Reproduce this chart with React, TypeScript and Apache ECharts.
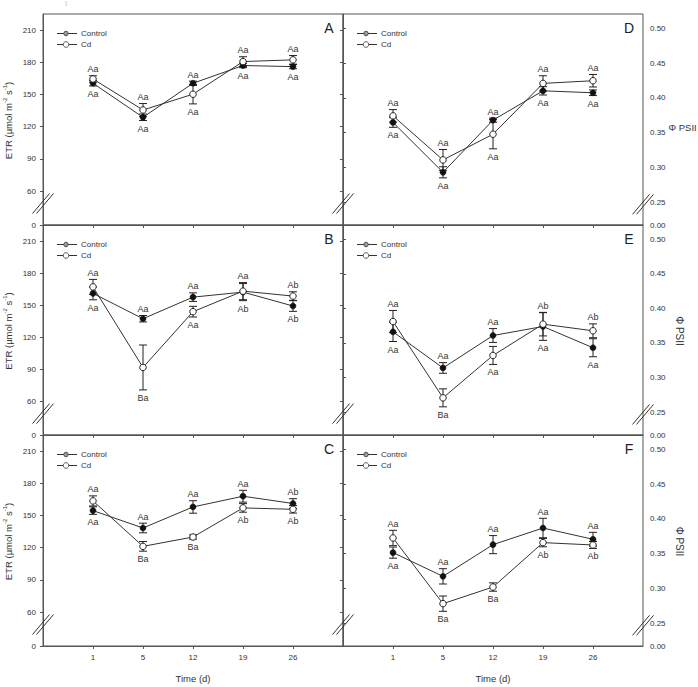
import React, { useEffect, useRef } from 'react';
import * as echarts from 'echarts';

const FONT = '"Liberation Sans", Arial, Helvetica, sans-serif';

// ---- categories & ticks ----
const days = ['1', '5', '12', '19', '26'];
const etrTicks = [60, 90, 120, 150, 180, 210];
const phiTicks = [0.25, 0.3, 0.35, 0.4, 0.45, 0.5];

// ---- Panel A (ETR) ----
const aControl = [160.5, 128.8, 160.5, 177.0, 176.0];
const aControlErr = [2.5, 3.0, 2.0, 2.0, 2.0];
const aCd = [164.5, 135.6, 150.3, 180.7, 182.3];
const aCdErr = [3.0, 6.0, 9.0, 4.5, 4.0];
const aTop = ['Aa', 'Aa', 'Aa', 'Aa', 'Aa'];
const aBottom = ['Aa', 'Aa', 'Aa', 'Aa', 'Aa'];

// ---- Panel B (ETR) ----
const bControl = [161.0, 137.3, 157.5, 162.2, 149.2];
const bControlErr = [6.0, 3.0, 4.0, 8.0, 5.0];
const bCd = [167.1, 91.7, 143.9, 163.1, 158.5];
const bCdErr = [7.0, 21.0, 5.0, 8.0, 4.0];
const bTop = ['Aa', 'Aa', 'Aa', 'Aa', 'Ab'];
const bBottom = ['Aa', 'Ba', 'Aa', 'Ab', 'Ab'];

// ---- Panel C (ETR) ----
const cControl = [154.6, 138.4, 158.0, 168.0, 161.2];
const cControlErr = [3.5, 4.5, 5.8, 5.5, 4.5];
const cCd = [163.6, 121.3, 130.0, 157.1, 155.8];
const cCdErr = [4.7, 4.5, 2.0, 4.0, 3.5];
const cTop = ['Aa', 'Aa', 'Aa', 'Aa', 'Ab'];
const cBottom = ['Aa', 'Ba', 'Ba', 'Ab', 'Ab'];

// ---- Panel D (PhiPSII) ----
const dControl = [0.3645, 0.2928, 0.3678, 0.41, 0.4072];
const dControlErr = [0.007, 0.008, 0.003, 0.006, 0.004];
const dCd = [0.374, 0.3106, 0.3476, 0.4207, 0.4245];
const dCdErr = [0.009, 0.015, 0.021, 0.011, 0.009];
const dTop = ['Aa', 'Aa', 'Aa', 'Aa', 'Aa'];
const dBottom = ['Aa', 'Aa', 'Aa', 'Aa', 'Aa'];

// ---- Panel E (PhiPSII) ----
const eControl = [0.3661, 0.3139, 0.3608, 0.3738, 0.3431];
const eControlErr = [0.014, 0.0077, 0.01, 0.02, 0.013];
const eCd = [0.381, 0.2707, 0.332, 0.3772, 0.3676];
const eCdErr = [0.016, 0.013, 0.013, 0.017, 0.01];
const eTop = ['Aa', 'Aa', 'Aa', 'Ab', 'Ab'];
const eBottom = ['Aa', 'Ba', 'Aa', 'Aa', 'Aa'];

// ---- Panel F (PhiPSII) ----
const fControl = [0.3513, 0.3172, 0.3628, 0.3867, 0.3705];
const fControlErr = [0.008, 0.011, 0.013, 0.014, 0.01];
const fCd = [0.3724, 0.2779, 0.3018, 0.3657, 0.3623];
const fCdErr = [0.011, 0.011, 0.006, 0.006, 0.005];
const fTop = ['Aa', 'Aa', 'Aa', 'Aa', 'Aa'];
const fBottom = ['Aa', 'Ba', 'Ba', 'Ab', 'Ab'];

// ---- axis ranges (broken axes) ----
const ETR_MIN = 28.5;
const ETR_MAX = 225;
const ETR_BREAK = 48.5;
const PHI_MIN = 0.217;
const PHI_MAX = 0.5205;
const PHI_BREAK = 0.2467;

// ---- layout ----
const COL_LEFT = [43, 343];
const ROW_TOP = [14, 225, 435];
const ROW_H = [211, 210, 211];
const GRID_W = 300;
const AXIS_COLOR = '#555';
const TEXT_COLOR = '#333';

type Panel = {
  letter: string;
  col: number;
  row: number;
  control: number[];
  controlErr: number[];
  cd: number[];
  cdErr: number[];
  top: string[];
  bottom: string[];
};

const panels: Panel[] = [
  { letter: 'A', col: 0, row: 0, control: aControl, controlErr: aControlErr, cd: aCd, cdErr: aCdErr, top: aTop, bottom: aBottom },
  { letter: 'B', col: 0, row: 1, control: bControl, controlErr: bControlErr, cd: bCd, cdErr: bCdErr, top: bTop, bottom: bBottom },
  { letter: 'C', col: 0, row: 2, control: cControl, controlErr: cControlErr, cd: cCd, cdErr: cCdErr, top: cTop, bottom: cBottom },
  { letter: 'D', col: 1, row: 0, control: dControl, controlErr: dControlErr, cd: dCd, cdErr: dCdErr, top: dTop, bottom: dBottom },
  { letter: 'E', col: 1, row: 1, control: eControl, controlErr: eControlErr, cd: eCd, cdErr: eCdErr, top: eTop, bottom: eBottom },
  { letter: 'F', col: 1, row: 2, control: fControl, controlErr: fControlErr, cd: fCd, cdErr: fCdErr, top: fTop, bottom: fBottom },
];

function txt(x: number, y: number, text: string, size: number, align = 'left', valign = 'middle', extra: any = {}) {
  return {
    type: 'text',
    x,
    y,
    z: 100,
    silent: true,
    ...extra,
    style: {
      text,
      fontSize: size,
      fontFamily: FONT,
      fill: extra.fill || TEXT_COLOR,
      align,
      verticalAlign: valign,
      textAlign: align,
      textVerticalAlign: valign,
    },
  };
}

function breakMark(cx: number, cy: number) {
  return [-2, 2].map((dx) => ({
    type: 'line',
    z: 100,
    silent: true,
    shape: { x1: cx + dx - 8.5, y1: cy + 10, x2: cx + dx + 8.5, y2: cy - 10 },
    style: { stroke: '#333', lineWidth: 1 },
  }));
}

function buildOption() {
  const grid: any[] = [];
  const xAxis: any[] = [];
  const yAxis: any[] = [];
  const series: any[] = [];
  const graphic: any[] = [];

  panels.forEach((p, i) => {
    const left = COL_LEFT[p.col];
    const top = ROW_TOP[p.row];
    const height = ROW_H[p.row];
    const isEtr = p.col === 0;
    const min = isEtr ? ETR_MIN : PHI_MIN;
    const max = isEtr ? ETR_MAX : PHI_MAX;
    const ticks = isEtr ? etrTicks : phiTicks;
    const yPix = (v: number) => top + ((max - v) / (max - min)) * height;

    grid.push({ left, top, width: GRID_W, height, show: true, borderColor: AXIS_COLOR, borderWidth: 1 });

    xAxis.push({
      type: 'value',
      gridIndex: i,
      min: 0,
      max: 6,
      axisLine: { show: true, lineStyle: { color: AXIS_COLOR, width: 1 } },
      axisTick: { show: true, customValues: [1, 2, 3, 4, 5], length: 3, lineStyle: { color: AXIS_COLOR } },
      axisLabel: {
        show: p.row === 2,
        customValues: [1, 2, 3, 4, 5],
        formatter: (v: number) => days[Math.round(v) - 1] ?? '',
        fontSize: 8,
        fontFamily: FONT,
        color: TEXT_COLOR,
        margin: 7,
      },
      splitLine: { show: false },
    });

    const yi = yAxis.length;
    yAxis.push({
      type: 'value',
      gridIndex: i,
      position: isEtr ? 'left' : 'right',
      min,
      max,
      axisLine: { show: true, lineStyle: { color: AXIS_COLOR, width: 1 } },
      axisTick: { show: true, customValues: [min, ...ticks], length: 3, lineStyle: { color: AXIS_COLOR } },
      axisLabel: {
        customValues: [min, ...ticks],
        formatter: (v: number) =>
          Math.abs(v - min) < 1e-6 ? (isEtr ? '0' : '0.00') : isEtr ? String(Math.round(v)) : v.toFixed(2),
        fontSize: 8,
        fontFamily: FONT,
        color: TEXT_COLOR,
        margin: 7,
      },
      splitLine: { show: false },
    });
    if (isEtr) {
      yAxis.push({
        type: 'value',
        gridIndex: i,
        position: 'right',
        min,
        max,
        axisLine: { show: false },
        axisTick: { show: true, inside: true, customValues: ticks, length: 3, lineStyle: { color: AXIS_COLOR } },
        axisLabel: { show: false },
        splitLine: { show: false },
      });
    }

    const errData = [
      ...p.control.map((v, k) => [k + 1, v, p.controlErr[k]]),
      ...p.cd.map((v, k) => [k + 1, v, p.cdErr[k]]),
    ];
    series.push({
      type: 'custom',
      xAxisIndex: i,
      yAxisIndex: yi,
      silent: true,
      z: 1,
      encode: { x: 0, y: 1 },
      data: errData,
      renderItem: (_params: any, api: any) => {
        const x = api.value(0);
        const v = api.value(1);
        const e = api.value(2);
        const hi = api.coord([x, v + e]);
        const lo = api.coord([x, v - e]);
        const cap = 4;
        const st = { stroke: '#222', lineWidth: 1 };
        return {
          type: 'group',
          children: [
            { type: 'line', shape: { x1: hi[0], y1: hi[1], x2: lo[0], y2: lo[1] }, style: st },
            { type: 'line', shape: { x1: hi[0] - cap, y1: hi[1], x2: hi[0] + cap, y2: hi[1] }, style: st },
            { type: 'line', shape: { x1: lo[0] - cap, y1: lo[1], x2: lo[0] + cap, y2: lo[1] }, style: st },
          ],
        };
      },
    });

    series.push({
      name: 'Control',
      type: 'line',
      xAxisIndex: i,
      yAxisIndex: yi,
      z: 3,
      silent: true,
      data: p.control.map((v, k) => [k + 1, v]),
      symbol: 'circle',
      symbolSize: 6,
      itemStyle: { color: '#111', borderColor: '#111', borderWidth: 0.5 },
      lineStyle: { color: '#333', width: 1 },
    });
    series.push({
      name: 'Cd',
      type: 'line',
      xAxisIndex: i,
      yAxisIndex: yi,
      z: 4,
      silent: true,
      data: p.cd.map((v, k) => [k + 1, v]),
      symbol: 'circle',
      symbolSize: 6.5,
      itemStyle: { color: '#fff', borderColor: '#222', borderWidth: 1 },
      lineStyle: { color: '#333', width: 1 },
    });

    const labelData = p.control.map((v, k) => [
      k + 1,
      Math.max(v + p.controlErr[k], p.cd[k] + p.cdErr[k]),
      Math.min(v - p.controlErr[k], p.cd[k] - p.cdErr[k]),
    ]);
    const topTexts = p.top;
    const botTexts = p.bottom;
    series.push({
      type: 'custom',
      xAxisIndex: i,
      yAxisIndex: yi,
      silent: true,
      z: 5,
      encode: { x: 0, y: 1 },
      data: labelData,
      renderItem: (params: any, api: any) => {
        const k = params.dataIndex;
        const t = api.coord([api.value(0), api.value(1)]);
        const b = api.coord([api.value(0), api.value(2)]);
        const base = { fontSize: 9, fontFamily: FONT, fill: TEXT_COLOR, align: 'center' };
        return {
          type: 'group',
          children: [
            { type: 'text', x: t[0], y: t[1] - 2, style: { ...base, text: topTexts[k], verticalAlign: 'bottom' } },
            { type: 'text', x: b[0], y: b[1] + 3.5, style: { ...base, text: botTexts[k], verticalAlign: 'top' } },
          ],
        };
      },
    });

    // panel letter
    graphic.push(txt(left + GRID_W - 14, top + 14, p.letter, 14, 'center', 'middle', { fill: '#222' }));

    // legend
    const ly1 = top + 19.5;
    const ly2 = top + 30.5;
    graphic.push({ type: 'line', z: 100, silent: true, shape: { x1: left + 14, y1: ly1, x2: left + 34, y2: ly1 }, style: { stroke: '#333', lineWidth: 1 } });
    graphic.push({ type: 'circle', z: 101, silent: true, shape: { cx: left + 23, cy: ly1, r: 2.3 }, style: { fill: '#999', stroke: '#333', lineWidth: 0.8 } });
    graphic.push(txt(left + 38, ly1, 'Control', 8));
    graphic.push({ type: 'line', z: 100, silent: true, shape: { x1: left + 14, y1: ly2, x2: left + 34, y2: ly2 }, style: { stroke: '#333', lineWidth: 1 } });
    graphic.push({ type: 'circle', z: 101, silent: true, shape: { cx: left + 23, cy: ly2, r: 2.8 }, style: { fill: '#fff', stroke: '#333', lineWidth: 0.8 } });
    graphic.push(txt(left + 38, ly2, 'Cd', 8));

    // axis breaks
    const by = yPix(isEtr ? ETR_BREAK : PHI_BREAK);
    if (isEtr) {
      graphic.push(...breakMark(left, by));
    }
    graphic.push(...breakMark(left + GRID_W, by));

    // axis titles
    const cy = top + height / 2 + 1;
    if (isEtr) {
      graphic.push({
        type: 'text',
        x: 8,
        y: cy,
        rotation: Math.PI / 2,
        z: 100,
        silent: true,
        style: {
          text: '{a|ETR (µmol m}{s|-2}{a| s}{s|-1}{a|)}',
          align: 'center',
          verticalAlign: 'middle',
          textAlign: 'center',
          textVerticalAlign: 'middle',
          rich: {
            a: { fontSize: 9.5, fontFamily: FONT, fill: TEXT_COLOR, color: TEXT_COLOR, lineHeight: 13 },
            s: { fontSize: 6, fontFamily: FONT, fill: TEXT_COLOR, color: TEXT_COLOR, lineHeight: 7, verticalAlign: 'top' },
          },
        },
      });
    } else if (p.row === 0) {
      graphic.push(txt(668.5, 127, 'Φ PSII', 9.5, 'left', 'middle'));
    } else {
      graphic.push(txt(679, cy, 'Φ PSII', 10, 'center', 'middle', { rotation: -Math.PI / 2 }));
    }
  });

  graphic.push(txt(193, 678, 'Time (d)', 9.5, 'center', 'middle'));
  graphic.push(txt(493, 678, 'Time (d)', 9.5, 'center', 'middle'));
  graphic.push(txt(66, 0.5, ')', 5, 'center', 'top', { fill: '#999' }));

  return {
    animation: false,
    backgroundColor: '#fff',
    grid,
    xAxis,
    yAxis,
    series,
    graphic: { elements: graphic },
  };
}

export default function App() {
  const ref = useRef<HTMLDivElement>(null);
  useEffect(() => {
    const chart = echarts.init(ref.current as HTMLDivElement, null, { renderer: 'svg' });
    chart.setOption(buildOption() as any);
    return () => chart.dispose();
  }, []);
  return <div ref={ref} style={{ position: 'fixed', left: 0, top: 0, width: 698, height: 687 }} />;
}
